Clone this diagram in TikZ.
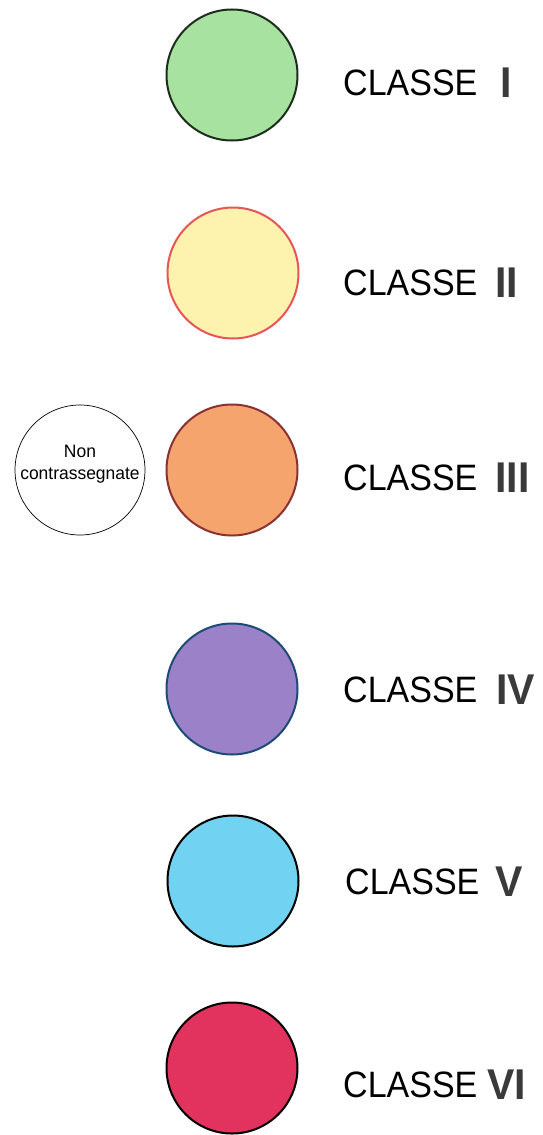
\documentclass[tikz,border=0pt]{standalone}
\usepackage{fontspec}
\setmainfont{Liberation Sans}
\begin{document}
\begin{tikzpicture}[x=1pt,y=-1pt,
  classcircle/.style={circle, draw, line width=2pt, minimum size=131pt, inner sep=0pt},
  classlabel/.style={anchor=base west, inner sep=0pt, font=\fontsize{34}{34}\selectfont, yscale=1.08},
  numlabel/.style={anchor=base west, inner sep=0pt, font=\fontsize{41}{41}\selectfont\bfseries, text=numgrey, yscale=1.05},
]
\definecolor{numgrey}{HTML}{3A3A3A}
\definecolor{cgreen}{HTML}{A8E2A0}
\definecolor{bgreen}{HTML}{1E2E1E}
\definecolor{cyellow}{HTML}{FDF3AE}
\definecolor{byellow}{HTML}{E85555}
\definecolor{corange}{HTML}{F6A46E}
\definecolor{borange}{HTML}{8A3232}
\definecolor{cpurple}{HTML}{9B82C8}
\definecolor{bpurple}{HTML}{1E4A78}
\definecolor{ccyan}{HTML}{72D2F2}
\definecolor{ccrimson}{HTML}{E2335E}
\useasboundingbox (0,0) rectangle (542,1135);
\fill[white] (0,0) rectangle (542,1135);

\node[classcircle, fill=cgreen, draw=bgreen] (c1) at (232,75) {};
\node[classcircle, fill=cyellow, draw=byellow] (c2) at (233,273) {};
\node[classcircle, fill=corange, draw=borange] (c3) at (232,470) {};
\node[classcircle, fill=cpurple, draw=bpurple] (c4) at (232,689) {};
\node[classcircle, fill=ccyan, draw=black] (c5) at (233,881) {};
\node[classcircle, fill=ccrimson, draw=black] (c6) at (232,1068) {};

\node[circle, draw, line width=0.7pt, minimum size=130pt, inner sep=0pt] (nc) at (80,470) {};
\node[inner sep=0pt, align=center, font=\fontsize{18}{22}\selectfont, xscale=0.97] (nct) at (80,464) {Non\\contrassegnate};

\node[classlabel] (l1) at (343,95) {CLASSE};
\node[numlabel] (n1) at (500,97) {I};
\node[classlabel] (l2) at (343,295) {CLASSE};
\node[numlabel] (n2) at (495,297) {II};
\node[classlabel] (l3) at (343,490) {CLASSE};
\node[numlabel] (n3) at (495,492) {III};
\node[classlabel] (l4) at (343,702) {CLASSE};
\node[numlabel] (n4) at (496,704) {IV};
\node[classlabel] (l5) at (345,894) {CLASSE};
\node[numlabel] (n5) at (495,896) {V};
\node[classlabel] (l6) at (343,1097) {CLASSE};
\node[numlabel] (n6) at (487,1099) {VI};
\end{tikzpicture}
\end{document}
